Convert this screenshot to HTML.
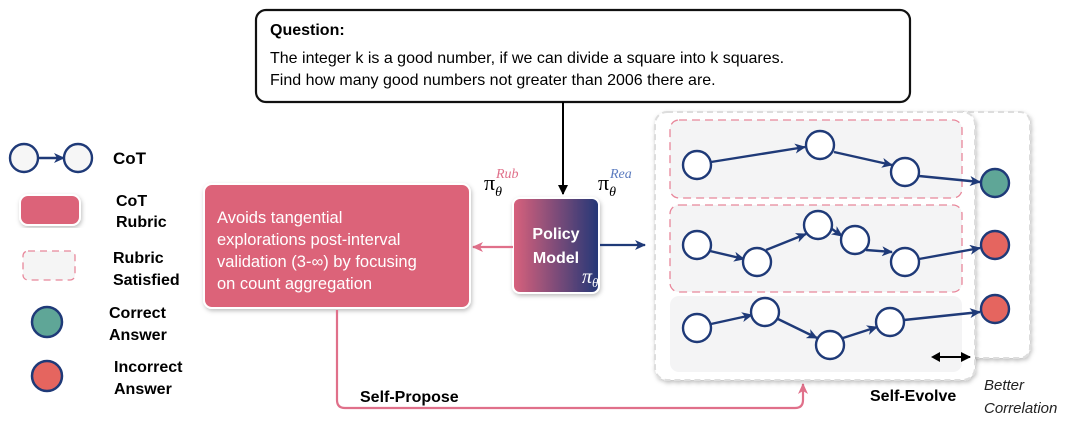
<!DOCTYPE html>
<html><head><style>
body{margin:0;background:#fff;}
svg{display:block;font-family:"Liberation Sans",sans-serif;}
</style></head><body>
<svg width="1080" height="425" viewBox="0 0 1080 425" xmlns="http://www.w3.org/2000/svg">
<defs>
<linearGradient id="g" x1="0" x2="1" y1="0" y2="0"><stop offset="0" stop-color="#d9617b"/><stop offset="1" stop-color="#233777"/></linearGradient>
<marker id="ab" markerWidth="11" markerHeight="10" refX="10" refY="5" orient="auto" markerUnits="userSpaceOnUse"><path d="M0,0 L11,5 L0,10 L3,5 z" fill="#1f3a78"/></marker>
<marker id="ak" markerWidth="10" markerHeight="10" refX="9" refY="5" orient="auto" markerUnits="userSpaceOnUse"><path d="M0,0 L10,5 L0,10 z" fill="#000"/></marker>
<marker id="ap" markerWidth="11" markerHeight="10" refX="10" refY="5" orient="auto" markerUnits="userSpaceOnUse"><path d="M0,0 L11,5 L0,10 L3,5 z" fill="#e0708a"/></marker>
<filter id="sh" x="-10%" y="-10%" width="120%" height="120%"><feDropShadow dx="1" dy="2" stdDeviation="2" flood-opacity="0.25"/></filter>
</defs>
<!-- question -->
<rect x="256" y="10" width="654" height="92" rx="10" fill="#fff" stroke="#111" stroke-width="2.2"/>
<text x="270" y="35" font-size="16" font-weight="bold">Question:</text>
<text x="270" y="63" font-size="16">The integer k is a good number, if we can divide a square into k squares.</text>
<text x="270" y="85" font-size="16">Find how many good numbers not greater than 2006 there are.</text>
<line x1="563" y1="102" x2="563" y2="194" stroke="#000" stroke-width="2" marker-end="url(#ak)"/>
<!-- policy -->
<rect x="513" y="198" width="86" height="95" rx="7" fill="url(#g)" stroke="#fff" stroke-width="2" filter="url(#sh)"/>
<text x="556" y="239" font-size="16" font-weight="bold" fill="#fff" text-anchor="middle">Policy</text>
<text x="556" y="263" font-size="16" font-weight="bold" fill="#fff" text-anchor="middle">Model</text>
<text x="582" y="283" font-size="20" font-style="italic" fill="#fff" font-family="Liberation Serif">π<tspan font-size="13" dy="4">θ</tspan></text>
<text x="484" y="190" font-size="22" font-family="Liberation Serif">π<tspan font-size="14" dy="6" font-style="italic">θ</tspan><tspan font-size="14" dy="-18" dx="-6" font-style="italic" fill="#e0708a">Rub</tspan></text>
<text x="598" y="190" font-size="22" font-family="Liberation Serif">π<tspan font-size="14" dy="6" font-style="italic">θ</tspan><tspan font-size="14" dy="-18" dx="-6" font-style="italic" fill="#5b7bbf">Rea</tspan></text>
<line x1="513" y1="247" x2="473" y2="247" stroke="#e0708a" stroke-width="2.2" marker-end="url(#ap)"/>
<line x1="600" y1="245" x2="645" y2="245" stroke="#1f3a78" stroke-width="2.2" marker-end="url(#ab)"/>
<!-- rubric box -->
<rect x="204" y="184" width="266" height="124" rx="8" fill="#dc6479" stroke="#fff" stroke-width="2" filter="url(#sh)"/>
<g font-size="16.5" fill="#fff">
<text x="217" y="223">Avoids tangential</text>
<text x="217" y="245">explorations post-interval</text>
<text x="217" y="267">validation (3-∞) by focusing</text>
<text x="217" y="289">on count aggregation</text>
</g>
<path d="M337,310 V400 Q337,408 345,408 H795 Q803,408 803,400 V384" fill="none" stroke="#e0708a" stroke-width="2.2" marker-end="url(#ap)"/>
<text x="360" y="402" font-size="16" font-weight="bold">Self-Propose</text>
<!-- containers -->
<rect x="948" y="112" width="82" height="246" rx="10" fill="#fff" stroke="#ddd" stroke-width="2" stroke-dasharray="6,4" filter="url(#sh)"/>
<rect x="655" y="112" width="320" height="268" rx="12" fill="#fff" stroke="#ddd" stroke-width="2" stroke-dasharray="6,4" filter="url(#sh)"/>
<rect x="670" y="120" width="292" height="78" rx="9" fill="#f4f4f5" stroke="#e8879b" stroke-width="1.3" stroke-dasharray="8,5"/>
<rect x="670" y="205" width="292" height="87" rx="9" fill="#f4f4f5" stroke="#e8879b" stroke-width="1.3" stroke-dasharray="8,5"/>
<rect x="670" y="296" width="292" height="76" rx="9" fill="#f4f4f5"/>
<g stroke="#1f3a78" stroke-width="2.4" fill="none" marker-end="url(#ab)">
<line x1="711" y1="162" x2="805" y2="147"/>
<line x1="834" y1="152" x2="892" y2="165"/>
<line x1="919" y1="176" x2="980" y2="182"/>
<line x1="710" y1="251" x2="744" y2="259"/>
<line x1="766" y1="250" x2="806" y2="234"/>
<line x1="832" y1="229" x2="842" y2="236"/>
<line x1="866" y1="250" x2="892" y2="252"/>
<line x1="919" y1="259" x2="980" y2="248"/>
<line x1="711" y1="324" x2="752" y2="315"/>
<line x1="778" y1="319" x2="817" y2="338"/>
<line x1="843" y1="338" x2="877" y2="327"/>
<line x1="904" y1="320" x2="980" y2="312"/>
</g>
<g stroke="#1f3a78" stroke-width="2.4" fill="#fff">
<circle cx="697" cy="165" r="14"/><circle cx="820" cy="145" r="14"/><circle cx="905" cy="172" r="14"/>
<circle cx="697" cy="245" r="14"/><circle cx="757" cy="262" r="14"/><circle cx="818" cy="225" r="14"/><circle cx="855" cy="240" r="14"/><circle cx="905" cy="262" r="14"/>
<circle cx="697" cy="328" r="14"/><circle cx="765" cy="312" r="14"/><circle cx="830" cy="345" r="14"/><circle cx="890" cy="322" r="14"/>
<circle cx="995" cy="183" r="14" fill="#5fa697"/><circle cx="995" cy="245" r="14" fill="#e5655f"/><circle cx="995" cy="309" r="14" fill="#e5655f"/>
</g>
<line x1="935" y1="357" x2="970" y2="357" stroke="#000" stroke-width="2" marker-end="url(#ak)"/>
<path d="M940,352 L931,357 L940,362 z" fill="#000"/>
<text x="870" y="401" font-size="16" font-weight="bold">Self-Evolve</text>
<text x="984" y="390" font-size="15" font-style="italic" fill="#222">Better</text>
<text x="984" y="413" font-size="15" font-style="italic" fill="#222">Correlation</text>
<!-- legend -->
<line x1="38" y1="158" x2="64" y2="158" stroke="#1f3a78" stroke-width="2.4" marker-end="url(#ab)"/>
<circle cx="24" cy="158" r="14" fill="#f6f6f6" stroke="#1f3a78" stroke-width="2.4"/>
<circle cx="78" cy="158" r="14" fill="#f6f6f6" stroke="#1f3a78" stroke-width="2.4"/>
<text x="113" y="164" font-size="17" font-weight="bold">CoT</text>
<rect x="20" y="195" width="60" height="30" rx="8" fill="#dc6479" stroke="#fff" stroke-width="2" filter="url(#sh)"/>
<text x="116" y="206" font-size="16" font-weight="bold">CoT</text>
<text x="116" y="227" font-size="16" font-weight="bold">Rubric</text>
<rect x="23" y="251" width="52" height="29" rx="5" fill="#f5f5f5" stroke="#e8879b" stroke-width="1.3" stroke-dasharray="7,5"/>
<text x="113" y="263" font-size="16" font-weight="bold">Rubric</text>
<text x="113" y="285" font-size="16" font-weight="bold">Satisfied</text>
<circle cx="47" cy="322" r="15" fill="#5fa697" stroke="#1f3a78" stroke-width="2.5"/>
<text x="109" y="318" font-size="16" font-weight="bold">Correct</text>
<text x="109" y="340" font-size="16" font-weight="bold">Answer</text>
<circle cx="47" cy="376" r="15" fill="#e5655f" stroke="#1f3a78" stroke-width="2.5"/>
<text x="114" y="372" font-size="16" font-weight="bold">Incorrect</text>
<text x="114" y="394" font-size="16" font-weight="bold">Answer</text>
</svg>
</body></html>
